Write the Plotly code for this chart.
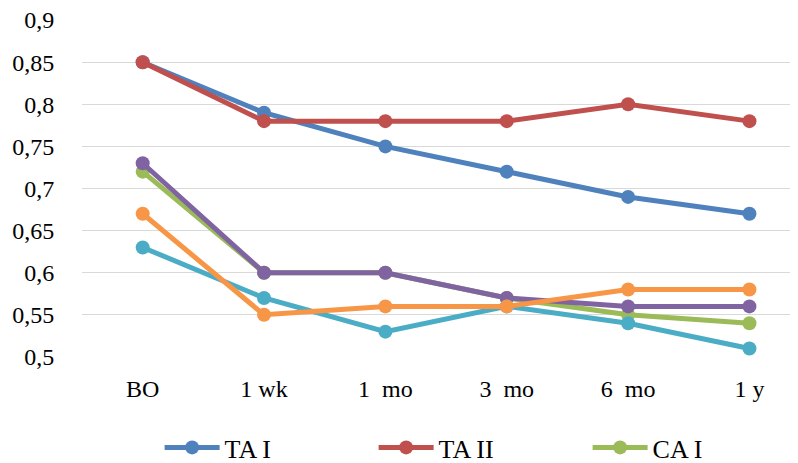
import plotly.graph_objects as go

categories = ["BO", "1 wk", "1  mo", "3  mo", "6  mo", "1 y"]
ta1 = [0.85, 0.79, 0.75, 0.72, 0.69, 0.67]
ta2 = [0.85, 0.78, 0.78, 0.78, 0.80, 0.78]
ca1 = [0.72, 0.60, 0.60, 0.57, 0.55, 0.54]
s4 = [0.73, 0.60, 0.60, 0.57, 0.56, 0.56]
s5 = [0.63, 0.57, 0.53, 0.56, 0.54, 0.51]
s6 = [0.67, 0.55, 0.56, 0.56, 0.58, 0.58]
tick_vals = [0.5, 0.55, 0.6, 0.65, 0.7, 0.75, 0.8, 0.85, 0.9]
tick_text = ["0,5", "0,55", "0,6", "0,65", "0,7", "0,75", "0,8", "0,85", "0,9"]

series = [
    ("TA I", ta1, "#4F81BD", True),
    ("TA II", ta2, "#C0504D", True),
    ("CA I", ca1, "#9BBB59", True),
    ("Series 4", s4, "#8064A2", False),
    ("Series 5", s5, "#4BACC6", False),
    ("Series 6", s6, "#F79646", False),
]

fig = go.Figure()
for name, vals, color, show in series:
    fig.add_trace(go.Scatter(
        x=list(range(len(categories))), y=vals, name=name, mode="lines+markers",
        line=dict(color=color, width=5),
        marker=dict(color=color, size=14),
        showlegend=show,
    ))

font = "Liberation Serif"
fig.update_layout(
    width=798, height=463,
    margin=dict(l=74, r=8, t=12, b=114, autoexpand=False),
    plot_bgcolor="white", paper_bgcolor="white",
    font=dict(family=font, size=24, color="black"),
    showlegend=True,
    legend=dict(
        orientation="h", xref="container", yref="container",
        x=0.19, y=0.0, xanchor="left", yanchor="bottom",
        font=dict(size=26), entrywidth=144, entrywidthmode="pixels",
        itemwidth=55, traceorder="normal",
    ),
    xaxis=dict(
        range=[-0.5, 5.4], tickmode="array", automargin=False,
        tickvals=list(range(len(categories))), ticktext=categories,
        showgrid=False, zeroline=False, showline=False,
        ticks="outside", ticklen=10, tickcolor="rgba(0,0,0,0)",
    ),
    yaxis=dict(
        range=[0.4999, 0.9001], tickmode="array", tickvals=tick_vals, ticktext=tick_text,
        automargin=False, ticklabeloverflow="allow",
        showgrid=True, gridcolor="#D9D9D9", gridwidth=1.3, zeroline=False,
        showline=False, ticks="outside", ticklen=22, tickcolor="rgba(0,0,0,0)",
    ),
)
fig.write_html("out.html")
